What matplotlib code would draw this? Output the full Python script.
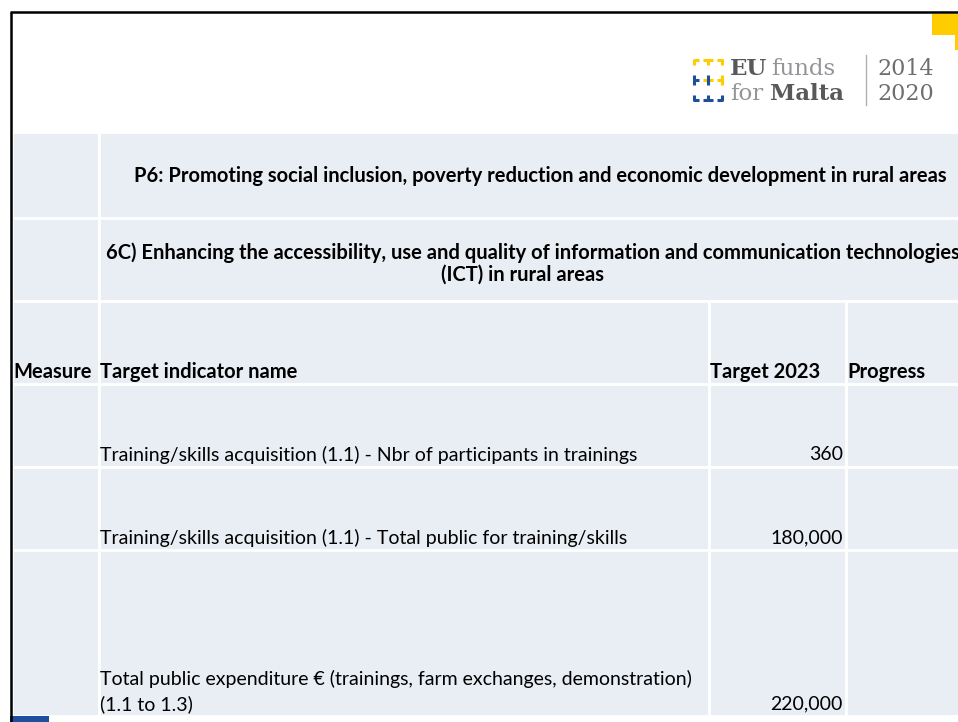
import matplotlib
matplotlib.use("Agg")
import matplotlib.pyplot as plt
from matplotlib.patches import Rectangle

# table content
priority_title = "P6: Promoting social inclusion, poverty reduction and economic development in rural areas"
focus_title = ["6C) Enhancing the accessibility, use and quality of information and communication technologies",
               "(ICT) in rural areas"]
headers = ["Measure", "Target indicator name", "Target 2023", "Progress"]
indicator_names = [
    ["Training/skills acquisition (1.1) - Nbr of participants in trainings"],
    ["Training/skills acquisition (1.1) - Total public for training/skills"],
    ["Total public expenditure \u20ac (trainings, farm exchanges, demonstration)", "(1.1 to 1.3)"],
]
targets_2023 = [360, 180000, 220000]

FILL = "#e9edf4"
FONT = ["Lato", "DejaVu Sans"]
FS = 14
FSB = 14.5

fig = plt.figure(figsize=(9.58, 7.22), dpi=100)
ax = fig.add_axes([0, 0, 1, 1])
ax.set_xlim(0, 958)
ax.set_ylim(722, 0)
ax.axis("off")

# column edges and row edges (pixels)
cols = [12, 99, 709, 846, 970]
rows = [132, 218, 301, 384, 467, 550, 716]

def cell(x0, x1, y0, y1):
    ax.add_patch(Rectangle((x0, y0), x1 - x0, y1 - y0, facecolor=FILL,
                           edgecolor="white", linewidth=2))

# two merged title rows
for r in range(2):
    cell(cols[0], cols[1], rows[r], rows[r + 1])
    cell(cols[1], cols[4], rows[r], rows[r + 1])
# header + data rows
for r in range(2, 6):
    for c in range(4):
        cell(cols[c], cols[c + 1], rows[r], rows[r + 1])

ax.text(540, 176, priority_title, ha="center", va="center", fontsize=FSB,
        fontweight="bold", family=FONT)
ax.text(533, 253, focus_title[0], ha="center", va="center", fontsize=FSB,
        fontweight="bold", family=FONT)
ax.text(523, 275, focus_title[1], ha="center", va="center", fontsize=FSB,
        fontweight="bold", family=FONT)

for c, h in enumerate(headers):
    ax.text(cols[c] + 1, 372, h, ha="left", va="center", fontsize=FSB,
            fontweight="bold", family=FONT)

for r, (name, val) in enumerate(zip(indicator_names, targets_2023)):
    ybot = rows[r + 3 + 1] - 12
    for k, line in enumerate(reversed(name)):
        ax.text(cols[1] + 1, ybot - k * 25, line, ha="left", va="center",
                fontsize=FS, family=FONT)
    ax.text(cols[3] - 3, ybot, f"{val:,}", ha="right", va="center",
            fontsize=FS, family=FONT)

# slide frame
ax.plot([10, 958], [12, 12], color="black", lw=1.8, solid_capstyle="butt")
ax.plot([11, 11], [12, 722], color="black", lw=1.8, solid_capstyle="butt")
ax.add_patch(Rectangle((932, 14), 26, 21, facecolor="#ffcc00", edgecolor="none"))
ax.add_patch(Rectangle((955, 14), 3, 36, facecolor="#ffcc00", edgecolor="none"))
ax.add_patch(Rectangle((10, 716), 39, 6, facecolor="#1f4e9c", edgecolor="none"))

# logo icon: grid of brackets
yel, blu = "#ffcc00", "#1f4e9c"
gx = [694, 708, 722]
gy = [60, 80, 100]
a = 5
segs = [
    (gx[0], gy[0], [(0, a), (0, 0), (a, 0)], yel),
    (gx[1], gy[0], [(-a, 0), (a, 0)], yel), (gx[1], gy[0], [(0, 0), (0, a)], yel),
    (gx[2], gy[0], [(-a, 0), (0, 0), (0, a)], yel),
    (gx[0], gy[1], [(0, -a), (0, a)], blu), (gx[0], gy[1], [(0, 0), (a, 0)], blu),
    (gx[1], gy[1], [(-a, 0), (a, 0)], yel), (gx[1], gy[1], [(0, -a), (0, a)], blu),
    (gx[2], gy[1], [(0, -a), (0, a)], yel), (gx[2], gy[1], [(-a, 0), (0, 0)], yel),
    (gx[0], gy[2], [(0, -a), (0, 0), (a, 0)], blu),
    (gx[1], gy[2], [(-a, 0), (a, 0)], blu), (gx[1], gy[2], [(0, 0), (0, -a)], blu),
    (gx[2], gy[2], [(-a, 0), (0, 0), (0, -a)], blu),
]
for x0, y0, pts, col in segs:
    ax.plot([x0 + p[0] for p in pts], [y0 + p[1] for p in pts], color=col,
            lw=2.2, solid_capstyle="butt")

dark, light, mid = "#58595b", "#939598", "#6d6e71"
ax.text(730, 75, "EU", ha="left", va="baseline", fontsize=16.5, fontweight="bold",
        color=dark, family="DejaVu Serif")
ax.text(771, 75, "funds", ha="left", va="baseline", fontsize=16.5, color=light,
        family="DejaVu Serif")
ax.text(730, 100, "for", ha="left", va="baseline", fontsize=16.5, color=light,
        family="DejaVu Serif")
ax.text(770, 100, "Malta", ha="left", va="baseline", fontsize=16.5, fontweight="bold",
        color=dark, family="DejaVu Serif")
ax.plot([866, 866], [55, 105], color="#b0b0b0", lw=1)
ax.text(877, 75, "2014", ha="left", va="baseline", fontsize=16, color=mid,
        family="DejaVu Serif")
ax.text(877, 100, "2020", ha="left", va="baseline", fontsize=16, color=mid,
        family="DejaVu Serif")

fig.savefig("out.png", dpi=100)
